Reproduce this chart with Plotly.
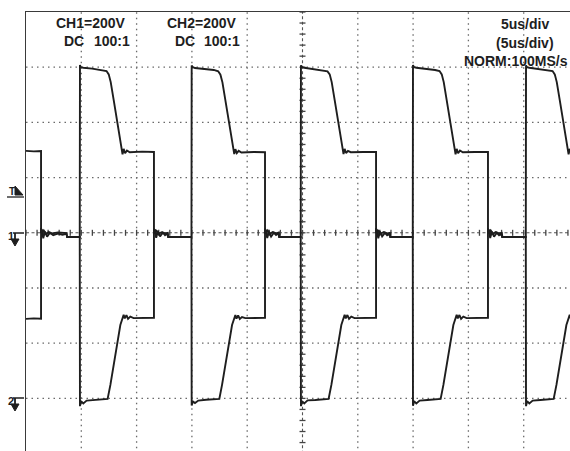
import plotly.graph_objects as go

# ---- waveform data (time in us, volts) ----
ch1_t = [0.00, 0.70, 1.36, 1.36, 1.44, 1.56, 1.71, 1.91, 2.16, 2.46, 2.86, 3.30, 3.66, 3.72, 4.86,
         4.88, 4.95, 5.18, 5.98, 6.88, 7.28, 7.48, 7.66, 7.93, 8.28, 8.55, 8.73, 8.83, 8.96, 9.13, 9.38, 10.50, 11.57,
         11.57, 11.65, 11.77, 11.92, 12.12, 12.37, 12.57, 12.77, 12.85, 14.96,
         14.98, 15.05, 15.28, 16.08, 16.98, 17.38, 17.58, 17.76, 18.03, 18.38, 18.65, 18.83, 18.93, 19.06, 19.23, 19.48, 20.60, 21.61,
         21.61, 21.69, 21.81, 21.96, 22.16, 22.41, 22.61, 22.81, 22.89, 24.84,
         24.86, 24.93, 25.16, 25.96, 26.86, 27.26, 27.46, 27.64, 27.91, 28.26, 28.53, 28.71, 28.81, 28.94, 29.11, 29.36, 30.50, 31.65,
         31.65, 31.73, 31.85, 32.00, 32.20, 32.45, 32.65, 32.85, 32.93, 34.97,
         34.99, 35.06, 35.29, 36.09, 36.99, 37.39, 37.59, 37.77, 38.04, 38.39, 38.66, 38.84, 38.94, 39.07, 39.24, 39.49, 40.60, 41.77,
         41.77, 41.85, 41.97, 42.12, 42.32, 42.57, 42.77, 42.97, 43.05, 45.19,
         45.21, 45.28, 45.51, 46.31, 47.21, 47.61, 47.81, 47.99, 48.26, 48.61, 48.88, 49.06, 49.16, 49.30]
ch1_v = [297, 295, 296, -2, 12, -20, 4, -14, 0, -9, -3, -7, -4, -15, -15,
         608, 600, 598, 595, 590, 586, 574, 546, 481, 401, 336, 284, 304, 288, 298, 292, 294, 293,
         -2, 13, -18, 5, -13, 1, -9, -3, -15, -15,
         606, 601, 597, 594, 590, 585, 573, 545, 480, 400, 335, 285, 303, 289, 297, 291, 293, 292,
         -3, 11, -19, 3, -14, 0, -8, -2, -15, -15,
         607, 600, 598, 594, 589, 585, 574, 546, 481, 401, 336, 285, 304, 289, 297, 292, 293, 293,
         -2, 12, -20, 4, -13, 0, -9, -3, -15, -15,
         608, 601, 598, 595, 590, 586, 574, 546, 481, 401, 336, 284, 304, 288, 298, 292, 293, 293,
         -2, 12, -19, 4, -14, 0, -9, -3, -15, -15,
         607, 600, 598, 594, 590, 586, 574, 546, 481, 401, 336, 284, 304, 289]

ch2_t = [0.00, 0.70, 1.36, 1.36, 1.46, 1.61, 1.81, 2.06, 2.36, 2.90, 3.66, 3.72, 4.86,
         4.88, 4.98, 5.18, 5.48, 6.18, 7.38, 7.63, 8.08, 8.53, 8.83, 8.93, 9.08, 9.23, 9.43, 9.73, 11.57,
         11.57, 11.67, 11.82, 12.02, 12.27, 12.57, 12.82, 12.87, 14.96,
         14.98, 15.08, 15.28, 15.58, 16.28, 17.48, 17.73, 18.18, 18.63, 18.93, 19.03, 19.18, 19.33, 19.53, 19.83, 21.61,
         21.61, 21.71, 21.86, 22.06, 22.31, 22.61, 22.86, 22.91, 24.84,
         24.86, 24.96, 25.16, 25.46, 26.16, 27.36, 27.61, 28.06, 28.51, 28.81, 28.91, 29.06, 29.21, 29.41, 29.71, 31.65,
         31.65, 31.75, 31.90, 32.10, 32.35, 32.65, 32.90, 32.95, 34.97,
         34.99, 35.09, 35.29, 35.59, 36.29, 37.49, 37.74, 38.19, 38.64, 38.94, 39.04, 39.19, 39.34, 39.54, 39.84, 41.77,
         41.77, 41.87, 42.02, 42.22, 42.47, 42.77, 43.02, 43.07, 45.19,
         45.21, 45.31, 45.51, 45.81, 46.51, 47.71, 47.96, 48.41, 48.86, 49.16, 49.26]
ch2_v = [288, 290, 289, 617, 598, 608, 596, 603, 598, 601, 599, 585, 585,
         -28, -10, -18, -8, -6, -2, 49, 157, 266, 303, 290, 302, 288, 296, 291, 292,
         615, 597, 607, 597, 602, 598, 600, 585, 585,
         -26, -11, -17, -8, -5, -2, 50, 158, 266, 302, 289, 301, 288, 295, 291, 292,
         616, 598, 608, 596, 603, 598, 601, 585, 585,
         -28, -10, -18, -7, -6, -2, 49, 157, 266, 303, 290, 302, 288, 296, 291, 292,
         617, 598, 607, 597, 603, 598, 600, 585, 585,
         -27, -10, -18, -8, -6, -2, 49, 157, 266, 303, 290, 302, 288, 296, 291, 292,
         616, 598, 608, 596, 603, 598, 600, 585, 585,
         -28, -10, -18, -8, -6, -2, 49, 157, 266, 303, 290]

# ---- scope settings / labels ----
volts_per_div = 200
us_per_div = 5
ch2_ground_div = -3
ch1_label = ["CH1=200V", "DC", "100:1"]
ch2_label = ["CH2=200V", "DC", "100:1"]
time_label = ["5us/div", "(5us/div)", "NORM:100MS/s"]

# ---- geometry ----
W, H = 570, 451
L, T = 26, 12
px_per_div_x = 55.3
px_per_div_y = 55.2
x_max = (W - L) / px_per_div_x * us_per_div
div_top = 4
div_bottom = div_top - (H - T) / px_per_div_y
y1_range = [div_bottom * volts_per_div, div_top * volts_per_div]
y2_range = [(div_bottom - ch2_ground_div) * volts_per_div, (div_top - ch2_ground_div) * volts_per_div]


def pxp(x):
    return (x - L) / (W - L)


def pyp(y):
    return (H - y) / (H - T)


INK = "#1e1e1e"
GRID = "#6a6a6a"

fig = go.Figure()
fig.add_trace(go.Scatter(x=ch1_t, y=ch1_v, mode="lines", line=dict(color=INK, width=1.9),
                         yaxis="y", showlegend=False, hoverinfo="skip"))
fig.add_trace(go.Scatter(x=ch2_t, y=ch2_v, mode="lines", line=dict(color=INK, width=1.9),
                         yaxis="y2", showlegend=False, hoverinfo="skip"))

shapes = []
# dotted grid
for k in range(1, 10):
    if k == 5:
        continue
    shapes.append(dict(type="line", xref="x", yref="y", x0=k * us_per_div, x1=k * us_per_div,
                       y0=-1000, y1=1000, line=dict(color=GRID, width=1.3, dash="1.5px,4px"), layer="below"))
for k in [-3, -2, -1, 1, 2, 3]:
    shapes.append(dict(type="line", xref="x", yref="y", x0=0, x1=60,
                       y0=k * volts_per_div, y1=k * volts_per_div,
                       line=dict(color=GRID, width=1.3, dash="1.5px,4px"), layer="below"))
# centre axes with ticks
cx = 5 * us_per_div
shapes.append(dict(type="line", xref="x", yref="y", x0=cx, x1=cx, y0=-1000, y1=1000,
                   line=dict(color="#555", width=1.1, dash="3px,2.5px"), layer="below"))
shapes.append(dict(type="line", xref="x", yref="y", x0=0, x1=60, y0=0, y1=0,
                   line=dict(color="#555", width=1.1, dash="3px,2.5px"), layer="below"))
tick_v = 3 / px_per_div_y * volts_per_div
tick_t = 3 / px_per_div_x * us_per_div
for i in range(0, 50):
    xt = i * us_per_div / 5
    shapes.append(dict(type="line", xref="x", yref="y", x0=xt, x1=xt, y0=-tick_v, y1=tick_v,
                       line=dict(color="#444", width=1.3), layer="below"))
for i in range(-20, 21):
    yt = i * volts_per_div / 5
    shapes.append(dict(type="line", xref="x", yref="y", x0=cx - tick_t, x1=cx + tick_t, y0=yt, y1=yt,
                       line=dict(color="#444", width=1.3), layer="below"))

# trigger marker
shapes.append(dict(type="path", xref="paper", yref="paper",
                   path=f"M {pxp(15)},{pyp(186)} L {pxp(15)},{pyp(195)} L {pxp(23)},{pyp(195)} Z",
                   fillcolor=INK, line=dict(color=INK, width=1)))
shapes.append(dict(type="line", xref="paper", yref="paper", x0=pxp(7), x1=pxp(24), y0=pyp(197), y1=pyp(197),
                   line=dict(color=INK, width=1.3)))


# ground markers
def ground(yc):
    return [
        dict(type="line", xref="paper", yref="paper", x0=pxp(13), x1=pxp(24), y0=pyp(yc), y1=pyp(yc),
             line=dict(color=INK, width=1.5)),
        dict(type="line", xref="paper", yref="paper", x0=pxp(15), x1=pxp(15), y0=pyp(yc), y1=pyp(yc + 9),
             line=dict(color=INK, width=1.8)),
        dict(type="path", xref="paper", yref="paper",
             path=f"M {pxp(11)},{pyp(yc + 6)} L {pxp(19)},{pyp(yc + 6)} L {pxp(15)},{pyp(yc + 13)} Z",
             fillcolor=INK, line=dict(color=INK, width=1)),
    ]


shapes += ground(233)
shapes += ground(398)

annotations = []


def txt(s, x, y, size=14, anchor="left"):
    annotations.append(dict(text=s, x=pxp(x), y=pyp(y), xref="paper", yref="paper", showarrow=False,
                            xanchor=anchor, yanchor="middle",
                            font=dict(family="Liberation Sans, Arial, sans-serif", size=size, color=INK)))


txt("<b>" + ch1_label[0] + "</b>", 54, 23)
txt("<b>" + ch1_label[1] + "</b>", 62, 41)
txt("<b>" + ch1_label[2] + "</b>", 92, 41)
txt("<b>" + ch2_label[0] + "</b>", 165, 23)
txt("<b>" + ch2_label[1] + "</b>", 173, 41)
txt("<b>" + ch2_label[2] + "</b>", 202, 41)
txt("<b>" + time_label[0] + "</b>", 525, 24, anchor="center")
txt("<b>" + time_label[1] + "</b>", 525, 43, anchor="center")
txt("<b>" + time_label[2] + "</b>", 462, 61)
txt("<b>T</b>", 7, 191, size=10)
txt("<b>1</b>", 6, 236, size=11)
txt("<b>2</b>", 6, 401, size=11)

fig.update_layout(
    width=W, height=H,
    margin=dict(l=L, r=0, t=T, b=0, pad=0),
    paper_bgcolor="white", plot_bgcolor="white",
    xaxis=dict(range=[0, x_max], side="top", showline=True, linecolor="#3a3a3a", linewidth=1.5,
               showgrid=False, zeroline=False, showticklabels=False, ticks=""),
    yaxis=dict(range=y1_range, showline=True, linecolor="#3a3a3a", linewidth=1.5,
               showgrid=False, zeroline=False, showticklabels=False, ticks=""),
    yaxis2=dict(range=y2_range, overlaying="y", visible=False, showgrid=False, zeroline=False),
    shapes=shapes,
    annotations=annotations,
)

fig.write_html("out.html", config={"displayModeBar": False, "staticPlot": True},
               post_script="document.body.style.margin='0';document.body.style.overflow='hidden';")
